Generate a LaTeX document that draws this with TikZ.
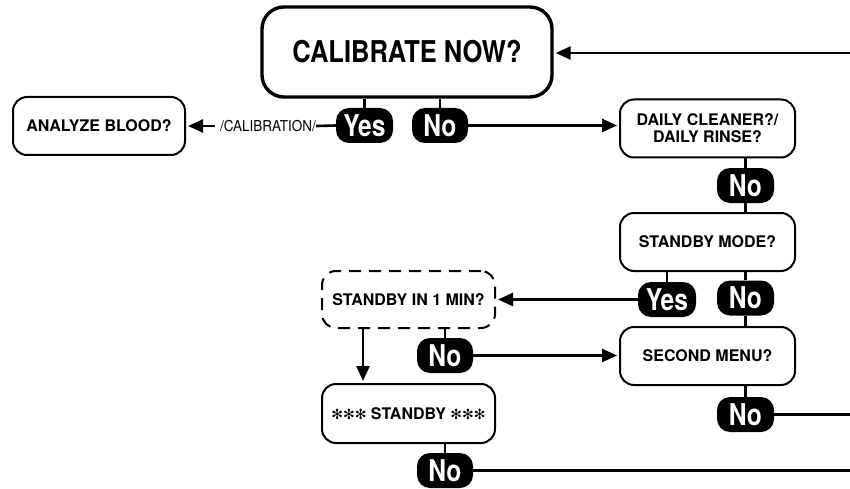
\documentclass[tikz,border=0pt]{standalone}
\usepackage{fontspec}
\setmainfont{TeX Gyre Heros}
\newfontfamily\pillfont[FakeStretch=0.82]{TeX Gyre Heros}
\newfontfamily\titlefont[FakeStretch=0.85]{TeX Gyre Heros}
\newfontfamily\tagfont[FakeStretch=0.9]{TeX Gyre Heros}
\newfontfamily\symfont{DejaVu Sans}
\usetikzlibrary{arrows.meta}

\begin{document}
\begin{tikzpicture}[x=1pt,y=-1pt,
		conn/.style={line width=2.6pt},
		arr/.style={conn,-{Triangle[length=15pt,width=13pt]},shorten >=2pt},
		menubox/.style={draw,line width=2pt,rounded corners=14pt,minimum width=175pt,minimum height=58pt,inner sep=0pt,align=center,font=\bfseries\fontsize{16}{17}\selectfont},
		bigbox/.style={menubox,line width=3.4pt,rounded corners=22pt,minimum width=290pt,minimum height=90pt,font=\titlefont\bfseries\fontsize{30}{30}\selectfont},
		waitbox/.style={menubox,dash pattern=on 12pt off 8pt},
		pill/.style={fill=black,text=white,rounded corners=13pt,minimum width=57pt,minimum height=35pt,inner sep=0pt,font=\pillfont\bfseries\fontsize{30}{30}\selectfont}]
		\useasboundingbox (0,0) rectangle (850,489);
		\coordinate (edge) at (850,0);
		\coordinate (feed) at (850,53);

		% top row
		\node[bigbox] (calnow) at (407,52) {CALIBRATE NOW?};
		\node[pill] (yesA) at (364.5,125.5) {Yes};
		\node[pill,minimum width=56pt] (noA) at (440,125.5) {No};
		\node[menubox,minimum width=172pt] (analyze) at (99,126) {ANALYZE BLOOD?};
		\node[inner sep=0pt,font=\tagfont\fontsize{15}{15}\selectfont] (calib) at (268,126) {/CALIBRATION/};
		\draw[arr] (feed) -- (feed -| calnow.east);
		\draw[conn] (yesA.north) -- (yesA.north |- calnow.south);
		\draw[conn] (noA.north) -- (noA.north |- calnow.south);
		\draw[conn] (yesA.west) -- (calib.east);
		\draw[arr,shorten <=5pt] (calib.west) -- (analyze.east);

		% right column
		\node[menubox] (daily) at (707.5,128.5) {DAILY CLEANER?/\\DAILY RINSE?};
		\node[pill] (noB) at (745.5,185.5) {No};
		\node[menubox] (stbymode) at (707.5,242) {STANDBY MODE?};
		\node[pill,minimum width=58pt] (yesC) at (667,299.5) {Yes};
		\node[pill] (noC) at (745.5,298) {No};
		\node[menubox] (second) at (707.5,356) {SECOND MENU?};
		\node[pill] (noE) at (745.5,414.5) {No};
		\draw[arr] (noA.east) -- (noA.east -| daily.west);
		\draw[conn] (noB.north) -- (noB.north |- daily.south);
		\draw[conn] (noB.south) -- (noB.south |- stbymode.north);
		\draw[conn] (yesC.north) -- (yesC.north |- stbymode.south);
		\draw[conn] (noC.north) -- (noC.north |- stbymode.south);
		\draw[conn] (noC.south) -- (noC.south |- second.north);
		\draw[conn] (noE.north) -- (noE.north |- second.south);
		\draw[conn] (noE.east) -- (noE.east -| edge);

		% left column
		\node[waitbox,minimum width=173pt,minimum height=57pt] (inmin) at (408.5,299.5) {STANDBY IN 1 MIN?};
		\node[pill,minimum width=56pt] (noD) at (445,355.5) {No};
		\node[menubox,minimum width=173pt,minimum height=59pt] (stby) at (408.5,413.5) {{\symfont\fontsize{14}{14}\selectfont ✻✻✻} STANDBY {\symfont\fontsize{14}{14}\selectfont ✻✻✻}};
		\node[pill,minimum width=56pt] (noF) at (445,470.5) {No};
		\draw[arr] (yesC.west) -- (yesC.west -| inmin.east);
		\draw[conn] (noD.north) -- (noD.north |- inmin.south);
		\draw[arr] (noD.east) -- (noD.east -| second.west);
		\draw[arr] ([xshift=-45.5pt]inmin.south) -- ([xshift=-45.5pt]stby.north);
		\draw[conn] (noF.north) -- (noF.north |- stby.south);
		\draw[conn] (noF.east) -- (noF.east -| edge);
	\end{tikzpicture}
\end{document}
